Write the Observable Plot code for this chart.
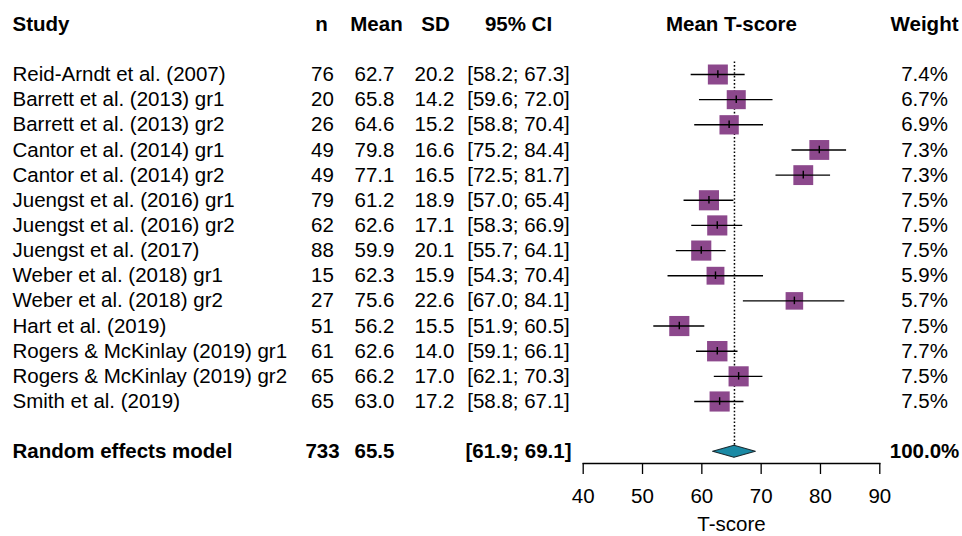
<!DOCTYPE html>
<html>
<head>
<meta charset="utf-8">
<script src="https://cdn.jsdelivr.net/npm/d3@7"></script>
<script src="https://cdn.jsdelivr.net/npm/@observablehq/plot@0.6"></script>
<style>
  html, body { margin: 0; padding: 0; background: #fff; }
  svg { display: block; }
</style>
</head>
<body>
<div id="chart"></div>
<script>
const studies = [
  "Reid-Arndt et al. (2007)",
  "Barrett et al. (2013) gr1",
  "Barrett et al. (2013) gr2",
  "Cantor et al. (2014) gr1",
  "Cantor et al. (2014) gr2",
  "Juengst et al. (2016) gr1",
  "Juengst et al. (2016) gr2",
  "Juengst et al. (2017)",
  "Weber et al. (2018) gr1",
  "Weber et al. (2018) gr2",
  "Hart et al. (2019)",
  "Rogers & McKinlay (2019) gr1",
  "Rogers & McKinlay (2019) gr2",
  "Smith et al. (2019)"
];
const nVals   = [76, 20, 26, 49, 49, 79, 62, 88, 15, 27, 51, 61, 65, 65];
const means   = [62.7, 65.8, 64.6, 79.8, 77.1, 61.2, 62.6, 59.9, 62.3, 75.6, 56.2, 62.6, 66.2, 63.0];
const sds     = [20.2, 14.2, 15.2, 16.6, 16.5, 18.9, 17.1, 20.1, 15.9, 22.6, 15.5, 14.0, 17.0, 17.2];
const lowers  = [58.2, 59.6, 58.8, 75.2, 72.5, 57.0, 58.3, 55.7, 54.3, 67.0, 51.9, 59.1, 62.1, 58.8];
const uppers  = [67.3, 72.0, 70.4, 84.4, 81.7, 65.4, 66.9, 64.1, 70.4, 84.1, 60.5, 66.1, 70.3, 67.1];
const weights = [7.4, 6.7, 6.9, 7.3, 7.3, 7.5, 7.5, 7.5, 5.9, 5.7, 7.5, 7.7, 7.5, 7.5];

const pooledLabel = "Random effects model";
const pooledN = 733;
const pooledMean = 65.5;
const pooledLower = 61.9;
const pooledUpper = 69.1;
const pooledWeight = 100.0;

const headers = ["Study", "n", "Mean", "SD", "95% CI", "Mean T-score", "Weight"];
const xTicks = [40, 50, 60, 70, 80, 90];
const xLabel = "T-score";

// row index: header = -1, studies 1..14, pooled = 16
const rows = studies.map((s, k) => ({
  i: k + 1, study: s, n: nVals[k], mean: means[k], sd: sds[k],
  lower: lowers[k], upper: uppers[k], weight: weights[k]
}));
const pooledRow = {i: 16, study: pooledLabel, n: pooledN, mean: pooledMean,
  lower: pooledLower, upper: pooledUpper, weight: pooledWeight};
const dh = 0.24;
const diamond = [
  {x: pooledLower, y1: pooledRow.i, y2: pooledRow.i},
  {x: pooledMean, y1: pooledRow.i - dh, y2: pooledRow.i + dh},
  {x: pooledUpper, y1: pooledRow.i, y2: pooledRow.i}
];

const W = 962, H = 536;
const mL = 582.7, mR = 82.7;
const FONT = "'Liberation Sans', Arial, Helvetica, sans-serif";
const FS = 20.5;
const off = px => px - mL; // offset from left edge of the frame

// column centres (px)
const colStudy = 12, colN = 322, colMean = 374, colSD = 434, colCI = 518, colPlot = 731, colW = 924;
const headerX = [colStudy, 321, 376, 435, colCI, colPlot, colW];
const fmt1 = v => v.toFixed(1);

function textCol(data, opts) {
  return Plot.text(data, {y: "i", frameAnchor: "left", fill: "black", fontSize: FS, ...opts});
}

const chart = Plot.plot({
  width: W,
  height: H,
  marginLeft: mL,
  marginRight: mR,
  marginTop: 10,
  marginBottom: 73,
  style: {fontFamily: FONT, background: "white", color: "black"},
  x: {domain: [40, 90]},
  y: {domain: [-1, 16], range: [23.7, 451.3], axis: null},
  r: {type: "sqrt", domain: [0, 7.4], range: [0, 20 / Math.sqrt(Math.PI)]},
  marks: [
    // x axis
    Plot.frame({anchor: "bottom", stroke: "black", strokeWidth: 1.3}),
    Plot.axisX({ticks: xTicks, tickSize: 11, tickPadding: 14, fontSize: FS, label: null,
      stroke: "black", strokeWidth: 1.3, fill: "black"}),
    Plot.text([xLabel], {frameAnchor: "bottom", lineAnchor: "middle", dy: 61, fontSize: FS, fill: "black"}),

    // reference dotted line at the pooled mean
    Plot.ruleX([pooledMean], {y1: 0.5, y2: pooledRow.i - dh, stroke: "black",
      strokeWidth: 1.5, strokeDasharray: "1.6,2"}),

    // squares
    Plot.dot(rows, {x: "mean", y: "i", r: "weight", symbol: "square", fill: "#8c488c", stroke: "none"}),
    // confidence intervals
    Plot.ruleY(rows, {y: "i", x1: "lower", x2: "upper", stroke: "black", strokeWidth: 1.4}),
    // mean ticks
    Plot.ruleX(rows, {x: "mean", y1: d => d.i - 0.15, y2: d => d.i + 0.15, stroke: "black", strokeWidth: 1.4}),

    // pooled diamond
    Plot.areaY(diamond, {x: "x", y1: "y1", y2: "y2", fill: "#1b8aa5", stroke: "#1a2a30", strokeWidth: 1.1}),

    // header
    ...headers.map((h, k) => Plot.text([h], {
      y: () => -1, frameAnchor: "left", fontSize: FS, fontWeight: "bold", fill: "black",
      dx: off(headerX[k]), textAnchor: k === 0 ? "start" : "middle"
    })),

    // study columns
    textCol(rows, {text: "study", dx: off(colStudy), textAnchor: "start"}),
    textCol(rows, {text: d => String(d.n), dx: off(colN), textAnchor: "middle"}),
    textCol(rows, {text: d => fmt1(d.mean), dx: off(colMean), textAnchor: "middle"}),
    textCol(rows, {text: d => fmt1(d.sd), dx: off(colSD), textAnchor: "middle"}),
    textCol(rows, {text: d => `[${fmt1(d.lower)}; ${fmt1(d.upper)}]`, dx: off(colCI), textAnchor: "middle"}),
    textCol(rows, {text: d => `${fmt1(d.weight)}%`, dx: off(colW), textAnchor: "middle"}),

    // pooled row
    textCol([pooledRow], {text: "study", dx: off(colStudy), textAnchor: "start", fontWeight: "bold"}),
    textCol([pooledRow], {text: d => String(d.n), dx: off(colN), textAnchor: "middle", fontWeight: "bold"}),
    textCol([pooledRow], {text: d => fmt1(d.mean), dx: off(colMean), textAnchor: "middle", fontWeight: "bold"}),
    textCol([pooledRow], {text: d => `[${fmt1(d.lower)}; ${fmt1(d.upper)}]`, dx: off(colCI), textAnchor: "middle", fontWeight: "bold"}),
    textCol([pooledRow], {text: d => `${fmt1(d.weight)}%`, dx: off(colW), textAnchor: "middle", fontWeight: "bold"})
  ]
});
document.getElementById("chart").appendChild(chart);
</script>
</body>
</html>
